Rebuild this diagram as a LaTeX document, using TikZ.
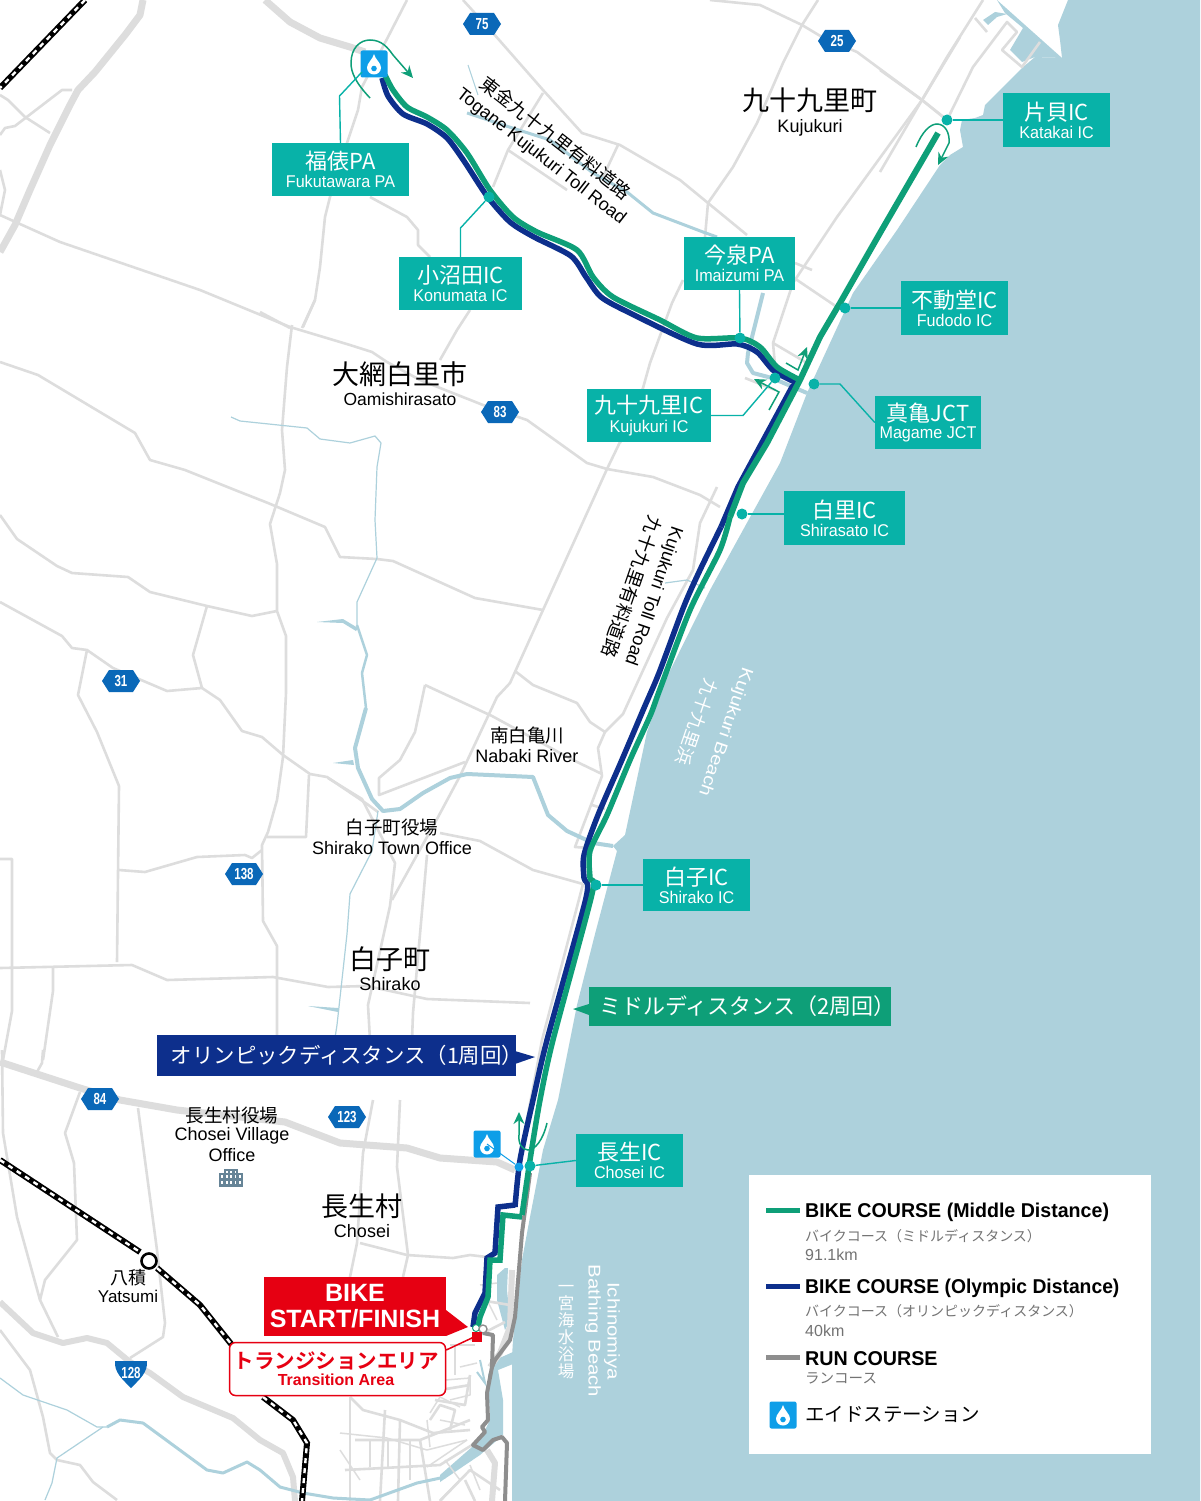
\documentclass[tikz,border=0pt]{standalone}
\usepackage{fontspec}
\usetikzlibrary{arrows.meta}
\setmainfont{Liberation Sans}
\newfontfamily\cjk{Noto Sans CJK JP}
\newfontfamily\cjkb{Noto Sans CJK JP Bold}
\definecolor{sea}{HTML}{ADD1DC}
\definecolor{road}{HTML}{DDDDDD}
\definecolor{riv}{HTML}{ADD1DC}
\definecolor{teal1}{HTML}{08B2A8}
\definecolor{grn}{HTML}{0E9F78}
\definecolor{nvy}{HTML}{0D2F8C}
\definecolor{runc}{HTML}{8E8E8E}
\definecolor{rd}{HTML}{E60012}
\definecolor{aqua}{HTML}{0E9EE8}
\definecolor{hwy}{HTML}{0A68B8}
\definecolor{bldg}{HTML}{668497}
\newcommand{\fs}[1]{\fontsize{#1}{#1}\selectfont}
\tikzset{
 rdthin/.style={draw=road,line width=2.6pt,line join=round},
 rdfine/.style={draw=road,line width=1.5pt,line join=round},
 rdthick/.style={draw=road,line width=7pt,line join=round},
 rivthin/.style={draw=riv,line width=1.2pt,line join=round},
 rivmid/.style={draw=riv,line width=4pt,line join=round},
 rail/.style={draw=black,line width=6pt},
 railw/.style={draw=white,line width=2.4pt,dash pattern=on 5pt off 5pt},
 gc/.style={draw=grn,line width=5.5pt,line join=round},
 nc/.style={draw=nvy,line width=5.5pt,line join=round},
 rc/.style={draw=runc,line width=4pt,line join=round},
 icbox/.style={fill=teal1,draw=none,inner sep=0pt,text=white,align=center},
 icdot/.style={circle,fill=teal1,inner sep=0pt,minimum size=11pt},
 icline/.style={draw=teal1,line width=1.4pt},
 turn/.style={draw=grn,line width=1.5pt,-{Stealth[length=12pt,width=11pt]}},
 place/.style={inner sep=0pt,align=center,text=black},
 badge/.pic={\fill[hwy] (-19,0)--(-12,-11)--(12,-11)--(19,0)--(12,11)--(-12,11)--cycle;},
 aid/.pic={\fill[aqua,rounded corners=2pt] (-13.5,-13.5) rectangle (13.5,13.5);
   \fill[white] (0,-10) .. controls (1,-5) and (7,-1) .. (7,3.5) .. controls (7,8) and (3.5,10.5) .. (0,10.5) .. controls (-3.5,10.5) and (-7,8) .. (-7,3.5) .. controls (-7,-1) and (-1,-5) .. (0,-10) -- cycle;
   \fill[aqua] (0,4.5) circle (2.8);},
}
\newcommand{\bnum}[3]{\node[text=white,inner sep=0pt,xscale=.72] at (#1,#2) {\fs{16}\bfseries #3};}
\begin{document}
\begin{tikzpicture}[x=1pt,y=-1pt]
\useasboundingbox (0,0) rectangle (1200,1501);
\fill[white] (0,0) rectangle (1200,1501);
% sea
\fill[sea] (1068,0)--(1058,25)--(1060,40)--(1062,58)--(1035,57)--(1022,68)--(985,105)--(983,115)--(975,118)--(962,120)--(960,130)--(963,147)--(950,155)--(940,165)--(897,230)--(853,293)--(807,393)--(780,463)--(743,530)--(710,590)--(667,677)--(647,732)--(625,835)--(613,846)--(617,851)--(595,934)--(577,1005)--(570,1040)--(558,1100)--(543,1150)--(530,1217)--(522,1260)--(513,1340)--(512,1357)--(512,1501)--(1200,1501)--(1200,0)--cycle;
\fill[sea] (997,0)--(1062,58)--(1035,57)--(1022,62)--(1010,50)--(1023,28)--(1005,13)--cycle;
\fill[sea] (983,20)--(995,12)--(1007,14)--(997,17)--(988,25)--cycle;
\fill[sea] (513,1352)--(495,1360)--(488,1375)--(490,1420)--(480,1440)--(440,1475)--(440,1482)--(480,1455)--(503,1435)--(503,1400)--(498,1370)--(513,1364)--cycle;
\fill[sea] (505,1268)--(497,1275)--(497,1300)--(505,1330)--(510,1320)--(507,1290)--(508,1268)--cycle;
% fine town streets
\foreach \p in {
 {(340,1433)--(387,1438)--(427,1450)--(467,1440)},
 {(370,1440)--(370,1467)},{(388,1440)--(388,1467)},
 {(427,1420)--(430,1447)},
 {(430,1413)--(440,1397)--(460,1407)},
 {(460,1367)--(477,1363)},
 {(427,1467)--(467,1440)},
 {(445,1380)--(470,1378)--(470,1395)--(450,1400)},
 {(440,1420)--(465,1425)},
 {(455,1345)--(455,1375)},
 {(480,1285)--(497,1283)},{(487,1300)--(497,1320)},
 {(410,1440)--(410,1480)},{(340,1450)--(360,1480)},
 {(445,1460)--(460,1480)--(440,1500)},{(470,1465)--(480,1490)}}
{\draw[rdfine] \p;}
% thin roads
\foreach \p in {
 {(0,95)--(8,100)--(25,117)--(50,133)},
 {(0,135)--(5,128)--(15,126)--(62,90)--(72,90)},
 {(0,170)--(5,190)--(0,215)},
 {(0,215)--(60,242)--(200,290)--(290,327)--(350,345)--(372,352)--(387,362)--(420,380)--(483,405)--(527,420)--(587,463)--(607,469)--(653,477)--(700,495)--(720,507)},
 {(0,362)--(38,375)--(135,433)--(150,460)--(185,470)--(240,492)--(268,503)--(325,527)--(340,557)--(377,559)--(393,561)--(475,598)--(543,610)},
 {(407,0)--(388,37)--(362,87)--(358,110)--(347,143)--(330,197)--(325,217)--(320,267)--(315,300)--(302,328)},
 {(292,325)--(287,367)--(282,430)--(285,470)--(280,493)--(270,524)--(277,564)--(277,611)--(286,636)--(286,693)--(283,757)--(277,800)--(268,832)--(262,845)--(263,921)--(277,946)--(277,1035)},
 {(0,602)--(62,636)--(72,648)--(87,650)--(113,668)--(167,691)--(202,688)--(220,700)--(242,731)--(262,737)--(283,755)--(310,774)--(327,777)--(367,804)--(378,812)},
 {(0,515)--(17,539)--(57,566)--(72,573)--(128,577)--(150,592)--(207,606)--(252,616)--(277,611)},
 {(207,606)--(193,655)--(202,688)},
 {(87,650)--(78,695)--(97,732)--(119,786)--(117,962)},
 {(119,870)--(145,872)--(197,857)--(245,855)--(252,858)--(262,850)},
 {(267,837)--(306,837)--(309,775)},
 {(0,968)--(132,965)--(167,980)--(273,977)--(328,987)--(367,986)--(427,999)--(530,1003)},
 {(0,859)--(12,859)--(12,1011)--(3,1060)},
 {(53,968)--(53,991)--(43,1060)},
 {(425,685)--(492,716)--(573,760)--(602,774)},
 {(425,685)--(415,732)--(400,760)--(379,778)--(379,795)--(465,762)},
 {(620,442)--(607,469)--(543,610)--(510,683)--(497,697)--(460,776)--(437,819)--(392,900)},
 {(328,778)--(362,799)--(395,863)--(390,906)--(368,1005)--(370,1040)},
 {(427,855)--(413,1013)--(412,1040)},
 {(440,833)--(480,841)--(533,870)--(583,884)},
 {(515,671)--(533,685)--(577,703)--(590,722)--(605,732)},
 {(717,487)--(700,523)--(693,570)--(667,618)--(623,714)--(605,732)--(598,748)--(602,776)--(575,847)--(590,848)},
 {(592,805)--(605,809)},
 {(583,884)--(542,1040)--(525,1130)},
 {(463,0)--(493,33)--(543,90)--(582,133)--(620,145)--(680,180)--(708,203)--(747,235)},
 {(795,263)--(812,270)},
 {(747,257)--(797,280)--(837,307)},
 {(543,93)--(508,150)--(493,187)},
 {(618,145)--(603,177)},
 {(508,150)--(567,190)},
 {(370,197)--(407,217)--(418,230)--(418,245)--(430,257)},
 {(470,310)--(457,330)--(440,360)},
 {(260,312)--(290,328)},{(303,327)--(315,300)},
 {(818,0)--(802,25)--(783,63)--(757,123)--(733,167)--(708,203)--(705,237)},
 {(683,280)--(672,303)--(650,363)--(643,388)--(620,443)},
 {(710,0)--(760,5)--(802,25)--(822,37)--(857,52)--(922,100)--(947,120)},
 {(960,37)--(922,100)--(837,217)--(793,283)--(773,343)--(775,365)},
 {(773,343)--(807,363)},
 {(983,0)--(947,57)--(922,100)--(880,172)},
 {(880,70)--(922,100)--(947,120)},
 {(947,120)--(973,67)--(1007,22)--(1017,32)--(1002,50)--(1022,67)--(1040,42)},
 {(975,18)--(987,32)},
 {(745,378)--(775,390)},
 {(2,1050)--(3,1133)--(17,1217)--(40,1300)--(58,1337)},
 {(43,1050)--(42,1063)--(37,1072)},
 {(80,1092)--(65,1133)--(74,1163)--(77,1240)--(45,1280)--(40,1300)},
 {(138,1108)--(157,1250)--(165,1323)--(163,1337)--(130,1358)},
 {(0,1330)--(30,1370)--(43,1417)--(50,1453)--(57,1460)--(80,1465)--(93,1482)--(117,1500)},
 {(360,1243)--(407,1255)--(453,1258)--(470,1255)--(487,1257)},
 {(373,1100)--(363,1153)--(357,1243)--(350,1277)},
 {(400,1100)--(397,1167)--(408,1255)--(403,1277)},
 {(350,1397)--(363,1410)--(400,1420)--(433,1433)--(470,1430)},
 {(470,1340)--(505,1322)},
 {(350,1397)--(350,1501)},{(385,1410)--(380,1501)},{(400,1420)--(398,1501)},
 {(355,1440)--(420,1440)--(470,1420)},{(345,1470)--(440,1465)--(472,1445)},
 {(420,1440)--(430,1501)},{(440,1390)--(470,1385)},{(435,1400)--(465,1405)--(470,1375)},
 {(450,1345)--(475,1345)},{(430,1420)--(440,1405)--(455,1410)--(450,1430)},
 {(480,1300)--(510,1305)},{(440,1501)--(470,1470)--(500,1490)},
 {(465,1480)--(475,1501)}}
{\draw[rdthin] \p;}
% thick roads
\draw[rdthick] (143,0)--(140,15)--(125,35)--(95,72)--(78,90)--(70,105)--(50,145)--(30,190)--(15,225)--(0,252);
\draw[rdthick] (265,0)--(290,22)--(320,38)--(350,47)--(365,52);
\draw[rdthick] (0,1062)--(80,1088)--(120,1100)--(177,1110)--(285,1122)--(340,1143)--(407,1148)--(440,1158)--(497,1162)--(515,1170);
\draw[rdthick,line width=6pt] (0,1302)--(33,1333)--(63,1343)--(87,1338)--(107,1343)--(130,1362)--(150,1373)--(183,1397)--(233,1418)--(260,1440)--(283,1453)--(293,1477)--(295,1501);
\draw[rdthick,line width=6pt] (512,1270)--(510,1327)--(500,1353)--(490,1367);
\draw[rdthick,line width=6pt] (487,1450)--(495,1463)--(492,1501);
% rivers
\draw[rivthin] (231,417)--(240,421)--(307,428)--(320,439)--(350,443)--(375,436)--(381,443)--(377,467)--(375,520)--(377,558)--(357,602)--(357,625);
\draw[riv,line width=2.5pt,line join=round] (357,625)--(367,655)--(362,673)--(366,708);
\draw[rivmid] (366,708)--(355,748)--(358,768)--(372,799)--(383,811)--(400,809)--(423,793)--(450,778)--(467,774)--(533,777)--(548,815)--(567,831)--(593,843)--(613,846);
\fill[riv] (317,622)--(343,619)--(358,628)--(356,631)--(343,623)--cycle;
\fill[riv] (333,763)--(353,760)--(354,765)--cycle;
\draw[rivthin] (378,811)--(372,851)--(350,894)--(347,934)--(337,1025)--(335,1038);
\fill[riv] (308,1006)--(338,1008)--(338,1012)--cycle;
\draw[riv,line width=1pt] (468,65)--(478,95);
\draw[riv,line width=3pt,line join=round] (467,113)--(503,125)--(550,140)--(593,173)--(627,192)--(653,213)--(703,232)--(717,237);
\draw[riv,line width=4pt,line join=round] (763,293)--(748,353)--(747,363)--(753,373)--(772,378)--(807,393);
\draw[rivthin] (665,583)--(687,580)--(705,588);
\draw[rivthin] (0,1378)--(23,1395)--(67,1410)--(97,1427)--(107,1427);
\draw[riv,line width=3pt,line join=round] (107,1427)--(120,1420)--(143,1423)--(207,1470)--(223,1473)--(247,1462)--(260,1470)--(280,1487)--(303,1493)--(333,1498)--(370,1500)--(417,1483)--(445,1477);
\draw[rivthin] (103,1427)--(57,1458)--(52,1483)--(45,1500);
\draw[riv,line width=2pt] (480,1360)--(485,1383)--(477,1372);
% rail
\draw[rail] (85,0)--(0,88);
\draw[railw] (85,0)--(0,88);
\draw[rail] (0,1160)--(140,1252);
\draw[railw] (0,1160)--(140,1252);
\draw[rail] (157,1268)--(200,1305)--(232,1345);
\draw[railw] (157,1268)--(200,1305)--(232,1345);
\draw[rail] (263,1397)--(293,1420)--(307,1443)--(302,1501);
\draw[railw] (263,1397)--(293,1420)--(307,1443)--(302,1501);
\node[circle,draw=black,line width=2.6pt,fill=white,minimum size=15pt,inner sep=0pt] (yatsumi) at (149,1261) {};
% run
\draw[rc] (530,1173)--(522,1233)--(515,1317)--(510,1340)--(495,1360)--(492,1367)--(487,1393)--(488,1420)--(482,1427)--(485,1432)--(473,1445)--(483,1450)--(493,1440)--(502,1437)--(507,1443)--(505,1501);
\draw[rc] (483,1333)--(493,1335)--(492,1367);
% bike courses
\draw[nc] plot[smooth,tension=.45] coordinates {(382,78)(388,96)(403,114)(427,124)(447,138)(464,161)(487,196)(510,222)(534,237)(571,256)(586,277)(601,297)(630,313)(697,344)(737,344)(757,352)(774,371)(797,383)};
\draw[nc] (797,383)--(792,387)--(738,487)--(721,527);
\draw[nc] plot[smooth,tension=.45] coordinates {(721,527)(700,570)(684,606)(659,673)(644,708)(621,762)(598,815)(584,855)(584,878)(586,898)(547,1040)(533,1100)(520,1160)(515,1207)};
\draw[nc,line join=miter] (515,1205)--(498,1207)--(495,1253)--(487,1258)--(485,1293)--(475,1313)--(473,1327);
\draw[gc] plot[smooth,tension=.45] coordinates {(385,75)(393,90)(407,107)(427,117)(447,130)(467,153)(490,190)(513,217)(537,232)(577,250)(593,277)(613,297)(660,320)(697,338)(740,338)(760,347)(777,367)(800,380)};
\draw[gc,line width=6pt] (938,133)--(880,233)--(840,303)--(820,337)--(800,380)--(767,443)--(743,483)--(730,517);
\draw[gc] plot[smooth,tension=.45] coordinates {(730,517)(720,550)(690,610)(660,689)(650,716)(630,760)(607,815)(590,851)(590,878)(592,894)(553,1040)(540,1100)(530,1160)(522,1215)};
\draw[gc,line join=miter] (522,1217)--(503,1215)--(500,1260)--(490,1260)--(488,1297)--(480,1317)--(478,1327);
% start markers
\node[circle,fill=white,draw=grn,line width=1pt,minimum size=7pt,inner sep=0pt] (m1) at (476,1328) {};
\node[circle,fill=white,draw=runc,line width=1.4pt,minimum size=8pt,inner sep=0pt] (m2) at (483,1329) {};
\fill[rd] (472,1332) rectangle (482,1342);
\coordinate (tsq) at (474,1337);
% turn arrows
\draw[turn] (370,98) .. controls (355,82) and (351,72) .. (351,63) .. controls (351,48) and (360,40) .. (370,40) .. controls (382,40) and (388,48) .. (393,55) -- (413,78);
\draw[turn] (916,147) .. controls (922,132) and (930,124) .. (937,124) .. controls (945,124) and (950,133) .. (949,143) -- (938,165);
\draw[turn] (786,363)--(798,370)--(807,347);
\draw[turn] (769,410)--(779,392)--(754,379);
\draw[turn] (547,1123) .. controls (543,1140) and (535,1150) .. (528,1150) .. controls (522,1150) and (518,1143) .. (519,1135) -- (519,1112);
% IC dots and lines
\node[icdot] (d1) at (489,197) {};
\node[icdot] (d2) at (740,338) {};
\node[icdot] (d3) at (775,378) {};
\node[icdot] (d4) at (845,308) {};
\node[icdot] (d5) at (814,384) {};
\node[icdot] (d6) at (742,514) {};
\node[icdot] (d7) at (596,885) {};
\node[icdot] (d8) at (530,1166) {};
\node[icdot] (d9) at (947,120) {};
\node[circle,fill=aqua,inner sep=0pt,minimum size=9pt] (d10) at (519,1167) {};
\pic at (374,64) {aid};
\coordinate (a1) at (362,72);
\coordinate (a2) at (487,1144);
\pic at (487,1144) {aid};
\draw[aqua,line width=1pt] (a2)--(d10);
% labels
\newcommand{\iclab}[7]{\node[icbox,minimum width=#4pt,minimum height=#5pt] (#1) at (#2,#3) {{\cjk\fs{22}#6}\\[3pt]{\fs{17}\scalebox{.95}[1]{#7}}};}
\iclab{l1}{340.5}{169.5}{137}{53}{福俵PA}{Fukutawara PA}
\iclab{l2}{460.5}{283.5}{123}{53}{小沼田IC}{Konumata IC}
\iclab{l3}{739.5}{263.5}{111}{53}{今泉PA}{Imaizumi PA}
\iclab{l4}{649}{415.5}{124}{53}{九十九里IC}{Kujukuri IC}
\iclab{l5}{954.5}{308}{107}{54}{不動堂IC}{Fudodo IC}
\iclab{l6}{928}{422.5}{106}{53}{真亀JCT}{Magame JCT}
\iclab{l7}{844.5}{518}{121}{54}{白里IC}{Shirasato IC}
\iclab{l8}{696.5}{885}{107}{52}{白子IC}{Shirako IC}
\iclab{l9}{629.5}{1160.5}{107}{53}{長生IC}{Chosei IC}
\iclab{l10}{1056.5}{120}{107}{54}{片貝IC}{Katakai IC}
\draw[icline] (l1.north)--(339.5,96)--(a1);
\draw[icline] (l2.north)--(460.5,228)--(d1);
\draw[icline] (l3.south)--(d2);
\draw[icline] (l4.east)--(743,415.5)--(d3);
\draw[icline] (l5.west)--(d4);
\draw[icline] (l6.west)--(840,384)--(d5);
\draw[icline] (d6)--(d6 -| l7.west);
\draw[icline] (l8.west)--(d7);
\draw[icline] (l9.west)--(d8);
\draw[icline] (l10.west)--(d9);
% route banners
\fill[grn] (589,1004)--(573,1009)--(589,1015)--cycle;
\node[fill=grn,minimum width=302pt,minimum height=39pt,inner sep=0pt] (mid) at (740,1006.5) {};
\node[inner sep=0pt,text=white] (midt) at (747.5,1006.5) {\cjk\fs{22}ミドルディスタンス（2周回）};
\fill[nvy] (515,1051)--(535,1057)--(515,1064)--cycle;
\node[fill=nvy,minimum width=359pt,minimum height=41pt,inner sep=0pt] (oly) at (336.5,1055.5) {};
\node[inner sep=0pt,text=white] (olyt) at (347,1055.5) {\cjk\fs{21.4}オリンピックディスタンス（1周回）};
% start
\fill[rd] (446,1310)--(468,1327)--(446,1336)--cycle;
\node[fill=rd,minimum width=182pt,minimum height=59pt,inner sep=0pt,text=white,align=center] (bike) at (355,1306.5) {\fs{25}\bfseries BIKE\\[7pt]\fs{25}\bfseries START/FINISH};
\node[draw=rd,line width=1.5pt,rounded corners=6pt,fill=white,minimum width=216pt,minimum height=53pt,inner sep=0pt] (trans) at (337.5,1369) {};
\node[inner sep=0pt,text=rd,align=center] (transt) at (336,1369) {{\cjkb\fs{20.5}トランジションエリア}\\[3pt]{\fs{16}\bfseries Transition Area}};
\draw[rd,line width=1.5pt] (trans.east |- 0,1350)--(tsq);
% place names
\node[place] (n1) at (810,112) {{\cjk\fs{27}九十九里町}\\[5pt]{\fs{18}Kujukuri}};
\node[place] (n2) at (400,384) {{\cjk\fs{27}大網白里市}\\[5pt]{\fs{17.5}Oamishirasato}};
\node[place] (n3) at (390,969) {{\cjk\fs{27}白子町}\\[5pt]{\fs{18}Shirako}};
\node[place] (n4) at (362,1216) {{\cjk\fs{27}長生村}\\[5pt]{\fs{18}Chosei}};
\node[place] (n5) at (527,744.5) {{\cjk\fs{18.5}南白亀川}\\[4pt]{\fs{18}Nabaki River}};
\node[place] (n6) at (392,837) {{\cjk\fs{18.5}白子町役場}\\[4pt]{\fs{18}Shirako Town Office}};
\node[place] (n7) at (232,1134) {{\cjk\fs{18.5}長生村役場}\\[3pt]{\fs{18}Chosei Village}\\[3pt]{\fs{18}Office}};
\node[place] (n8) at (128,1286) {{\cjk\fs{18}八積}\\[3pt]{\fs{17}Yatsumi}};
% building
\begin{scope}[shift={(231,1178)}]
\fill[bldg] (-12,-5) rectangle (12,9);
\fill[bldg] (-7,-9) rectangle (7,9);
\foreach \u in {-10,-5,-0.8,3.5,8} \foreach \v in {-3,2.5} \fill[white] (\u,\v) rectangle +(1.6,3);
\foreach \u in {-5,-0.8,3.5} \fill[white] (\u,-7.5) rectangle +(1.6,2.6);
\end{scope}
% rotated texts
\node[place,rotate=-38] at (556,138) {\cjk\fs{18.5}東金九十九里有料道路};
\node[place,rotate=-38] at (541,157) {\fs{18}Togane Kujukuri Toll Road};
\node[place,rotate=-109] at (632,587) {\cjk\fs{18.5}九十九里有料道路};
\node[place,rotate=-109] at (653,596) {\fs{18}Kujukuri Toll Road};
\node[place,rotate=-109,text=white] at (697,722) {\cjk\fs{18}九十九里浜};
\node[place,rotate=-109,text=white] at (725,732) {\fs{17}\scalebox{1.18}[1]{Kujukuri Beach}};
\node[place,rotate=-90,text=white] at (612,1331) {\fs{17}\scalebox{1.2}[1]{Ichinomiya}};
\node[place,rotate=-90,text=white] at (593,1331) {\fs{17}\scalebox{1.2}[1]{Bathing Beach}};
\node[place,text=white,font=\cjk\fontsize{16.5}{17}\selectfont] at (566,1332) {一\\宮\\海\\水\\浴\\場};
% highway badges
\foreach \x/\y/\n in {482/24/75,837/41/25,500/412/83,121/681/31,244/874/138,100/1099/84,347/1117/123} {
 \pic at (\x,\y) {badge};
 \bnum{\x}{\y}{\n}
}
\fill[hwy] (115,1361) -- (147,1361) .. controls (148,1372) and (140,1379) .. (131,1388) .. controls (122,1379) and (114,1372) .. (115,1361) -- cycle;
\bnum{131}{1373}{128}
% legend
\fill[white] (749,1175) rectangle (1151,1454);
\draw[grn,line width=5pt] (766,1210.5)--(800,1210.5);
\draw[nvy,line width=5pt] (766,1286.5)--(800,1286.5);
\draw[runc,line width=5pt] (766,1357.5)--(800,1357.5);
\tikzset{lgt/.style={inner sep=0pt,anchor=west,text=black},lgs/.style={inner sep=0pt,anchor=west,text=black!55}}
\node[lgt] at (805,1212) {\fs{20}\bfseries\scalebox{.98}[1]{BIKE COURSE (Middle Distance)}};
\node[lgs] at (805,1236) {\cjk\fs{14}バイクコース（ミドルディスタンス）};
\node[lgs] at (805,1255) {\fs{16}91.1km};
\node[lgt] at (805,1288) {\fs{20}\bfseries\scalebox{.965}[1]{BIKE COURSE (Olympic Distance)}};
\node[lgs] at (805,1311) {\cjk\fs{14}バイクコース（オリンピックディスタンス）};
\node[lgs] at (805,1331) {\fs{16}40km};
\node[lgt] at (805,1359) {\fs{20}\bfseries\scalebox{.985}[1]{RUN COURSE}};
\node[lgs] at (805,1378) {\cjk\fs{14.5}ランコース};
\pic at (783,1415) {aid};
\node[lgt] at (805,1414) {\cjk\fs{19.5}エイドステーション};
\end{tikzpicture}
\end{document}
